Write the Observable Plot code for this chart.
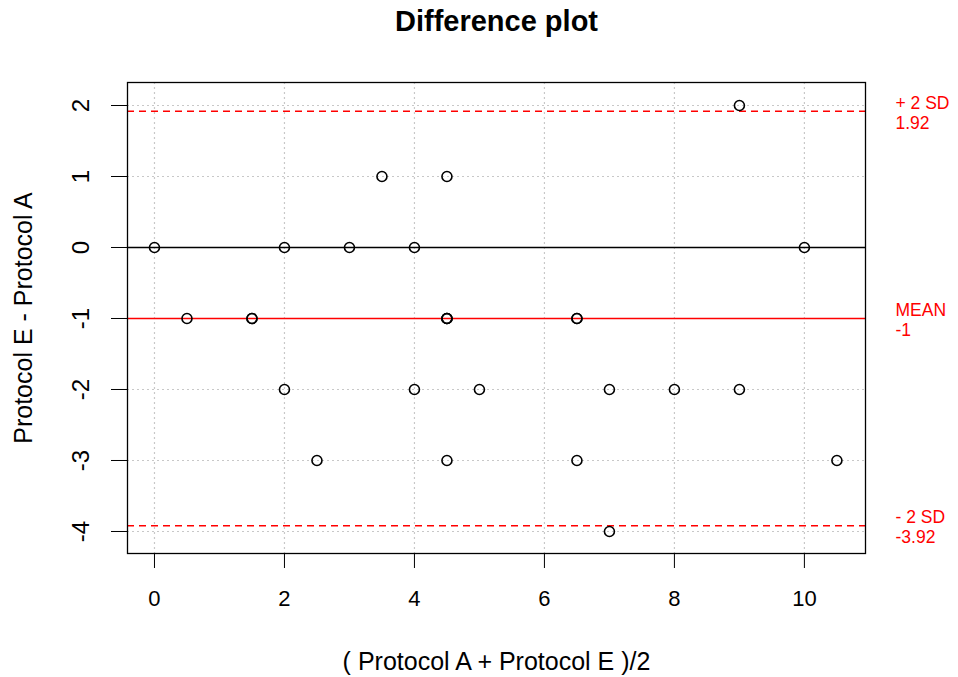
<!DOCTYPE html>
<html>
<head>
<meta charset="utf-8">
<script src="https://cdn.jsdelivr.net/npm/d3@7"></script>
<script src="https://cdn.jsdelivr.net/npm/@observablehq/plot@0.6"></script>
<style>
  html, body { margin: 0; padding: 0; background: #fff; }
  #chart { width: 958px; height: 677px; }
</style>
</head>
<body>
<div id="chart"></div>
<script>
// Data
const avgValues  = [0, 0.5, 1.5, 1.5, 2, 2, 2.5, 3, 3.5, 4, 4, 4.5, 4.5, 4.5, 4.5, 4.5, 5, 6.5, 6.5, 6.5, 7, 7, 8, 9, 9, 10, 10.5];
const diffValues = [0, -1, -1, -1, 0, -2, -3, 0, 1, 0, -2, 1, -1, -1, -3, -1, -2, -1, -1, -3, -2, -4, -2, 2, -2, 0, -3];
const xTicks = [0, 2, 4, 6, 8, 10];
const yTicks = [-4, -3, -2, -1, 0, 1, 2];
const meanDiff = -1;
const upperSD = 1.92;
const lowerSD = -3.92;
const refLabels = [
  {y: upperSD, top: "+ 2 SD", bottom: "1.92"},
  {y: meanDiff, top: "MEAN", bottom: "-1"},
  {y: lowerSD, top: "- 2 SD", bottom: "-3.92"}
];

const points = avgValues.map((x, i) => ({x, y: diffValues[i]}));
const font = "'Liberation Sans', Arial, Helvetica, sans-serif";

const plot = Plot.plot({
  width: 958,
  height: 677,
  marginLeft: 127,
  marginRight: 93,
  marginTop: 82,
  marginBottom: 124,
  style: {fontFamily: font, background: "#fff"},
  x: {domain: [-0.415, 10.94], ticks: xTicks},
  y: {domain: [-4.31, 2.324], ticks: yTicks},
  marks: [
    // grid
    Plot.ruleX(xTicks, {stroke: "#c8c8c8", strokeDasharray: "2,3", strokeWidth: 1.2}),
    Plot.ruleY(yTicks, {stroke: "#c8c8c8", strokeDasharray: "2,3", strokeWidth: 1.2}),
    // reference lines
    Plot.ruleY([0], {stroke: "#000", strokeWidth: 1.3}),
    Plot.ruleY([meanDiff], {stroke: "#ff0000", strokeWidth: 1.5}),
    Plot.ruleY([upperSD, lowerSD], {stroke: "#ff0000", strokeWidth: 1.5, strokeDasharray: "7,5"}),
    // points
    Plot.dot(points, {x: "x", y: "y", r: 5, stroke: "#000", strokeWidth: 1.6, fill: "none"}),
    // frame
    Plot.frame({stroke: "#000", strokeWidth: 1.3}),
    // axes
    Plot.axisX({ticks: xTicks, tickSize: 15, tickPadding: 22, fontSize: 22, label: null, tickFormat: d => String(d), stroke: "#000"}),
    Plot.axisY({ticks: yTicks, tickSize: 16, tickPadding: 23, fontSize: 24, label: null, tickRotate: -90, tickFormat: d => String(d), stroke: "#000"}),
    // axis titles
    Plot.text(["( Protocol A + Protocol E )/2"], {frameAnchor: "bottom", dy: 116, fontSize: 25, fill: "#000"}),
    Plot.text(["Protocol E - Protocol A"], {frameAnchor: "left", dx: -104, rotate: -90, textAnchor: "middle", fontSize: 25, fill: "#000"}),
    // title
    Plot.text(["Difference plot"], {frameAnchor: "top", dy: -72, fontSize: 29, fontWeight: "bold", fill: "#000"}),
    // right-side labels (two lines each)
    Plot.text(refLabels, {y: "y", text: d => d.top + "\n" + d.bottom, frameAnchor: "right", dx: 30, dy: 1, lineHeight: 1.15, textAnchor: "start", fill: "#ff0000", fontSize: 17.5})
  ]
});
document.getElementById("chart").appendChild(plot);
</script>
</body>
</html>
